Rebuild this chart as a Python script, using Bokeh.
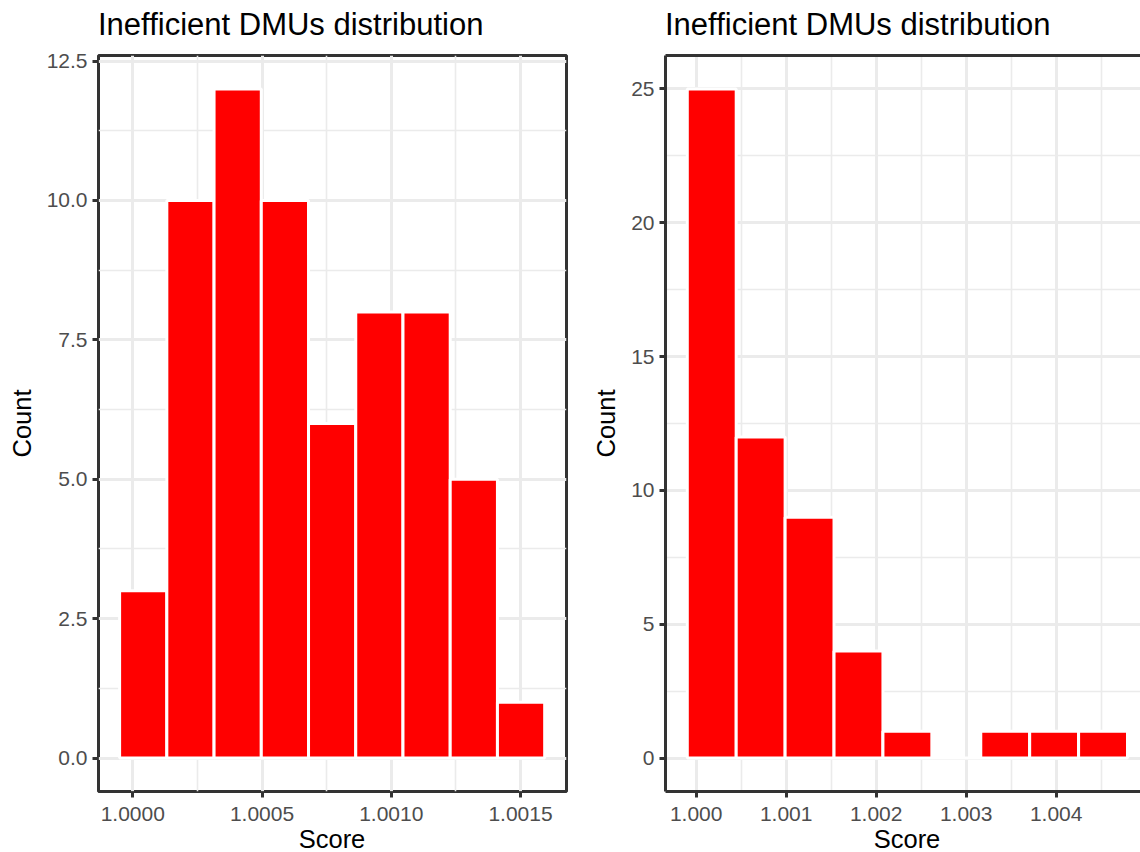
from bokeh.plotting import figure
from bokeh.layouts import row, column
from bokeh.models import FixedTicker, PrintfTickFormatter, Range1d, LinearAxis, ColumnDataSource, Div
from bokeh.embed import file_html
from bokeh.resources import INLINE

# ---------------- data ----------------
left_bin_centers = [1.0000404, 1.0002231, 1.0004058, 1.0005885, 1.0007712,
                    1.0009539, 1.0011366, 1.0013193, 1.0015020]
left_counts = [3, 10, 12, 10, 6, 8, 8, 5, 1]
left_bin_width = 0.00018271
left_x_ticks = [1.0000, 1.0005, 1.0010, 1.0015]
left_x_minor = [1.00025, 1.00075, 1.00125]
left_y_ticks = [0.0, 2.5, 5.0, 7.5, 10.0, 12.5]
left_y_minor = [1.25, 3.75, 6.25, 8.75, 11.25]

right_bin_centers = [1.0001728, 1.0007163, 1.0012597, 1.0018032, 1.0023466,
                     1.0028901, 1.0034336, 1.0039770, 1.0045205]
right_counts = [25, 12, 9, 4, 1, 0, 1, 1, 1]
right_bin_width = 0.00054346
right_x_ticks = [1.000, 1.001, 1.002, 1.003, 1.004]
right_x_minor = [1.0005, 1.0015, 1.0025, 1.0035, 1.0045]
right_y_ticks = [0, 5, 10, 15, 20, 25]
right_y_minor = [2.5, 7.5, 12.5, 17.5, 22.5]

title_text = "Inefficient DMUs distribution"
x_label = "Score"
y_label = "Count"

FONT = "Liberation Sans"
DARK = "#333333"
TICKLAB = "#4D4D4D"
GRID = "#EBEBEB"

TITLE_H = 45
XLAB_H = 22
FIG_H = 852 - TITLE_H - XLAB_H
LEFT_W, RIGHT_W = 585, 555


def title_div(width, pad_left):
    html = ('<div style="padding-left:%dpx;font-family:\'Liberation Sans\';font-size:31px;'
            'line-height:50px;color:#000000;white-space:nowrap;margin:0">%s</div>'
            % (pad_left, title_text))
    return Div(text=html, width=width, height=TITLE_H, margin=0)


def xlabel_div(width, pad_left, box_w):
    html = ('<div style="margin-left:%dpx;width:%dpx;text-align:center;font-family:\'Liberation Sans\';'
            'font-size:25.5px;line-height:19px;color:#000000;white-space:nowrap">%s</div>'
            % (pad_left, box_w, x_label))
    return Div(text=html, width=width, height=XLAB_H, margin=0)


def style(p, xt, xm, yt, ym, xfmt, yfmt, outline=True):
    p.background_fill_color = "white"
    p.border_fill_color = "white"
    if outline:
        p.outline_line_color = DARK
        p.outline_line_width = 3
    else:
        p.outline_line_color = None
    p.xaxis.ticker = FixedTicker(ticks=xt, minor_ticks=xm)
    p.yaxis.ticker = FixedTicker(ticks=yt, minor_ticks=ym)
    p.xaxis.formatter = PrintfTickFormatter(format=xfmt)
    p.yaxis.formatter = PrintfTickFormatter(format=yfmt)
    for ax in (p.xaxis, p.yaxis):
        ax.major_label_text_font = FONT
        ax.major_label_text_font_size = "21px"
        ax.major_label_text_color = TICKLAB
        ax.axis_label_text_font = FONT
        ax.axis_label_text_font_size = "25.5px"
        ax.axis_label_text_font_style = "normal"
        ax.axis_label_text_color = "black"
        ax.major_tick_line_color = DARK
        ax.major_tick_line_width = 3
        ax.major_tick_out = 6
        ax.major_tick_in = 0
        ax.minor_tick_line_color = None
        if outline:
            ax.axis_line_color = None
        else:
            ax.axis_line_color = DARK
            ax.axis_line_width = 3
    p.yaxis.axis_label = y_label
    p.xaxis.major_label_standoff = 9
    p.yaxis.major_label_standoff = 5
    p.yaxis.axis_label_standoff = 8
    for g in (p.xgrid, p.ygrid):
        g.grid_line_color = GRID
        g.grid_line_width = 3
        g.minor_grid_line_color = GRID
        g.minor_grid_line_width = 1.6
    p.xgrid.ticker = FixedTicker(ticks=xt, minor_ticks=xm)
    p.ygrid.ticker = FixedTicker(ticks=yt, minor_ticks=ym)


# ---------------- left panel ----------------
p1 = figure(width=LEFT_W, height=FIG_H, output_backend="svg", toolbar_location=None,
            x_range=Range1d(0.9998674, 1.0016778), y_range=Range1d(-0.6, 12.6),
            min_border_left=98, min_border_right=19, min_border_top=10, min_border_bottom=39)
src1 = ColumnDataSource(dict(x=left_bin_centers, top=left_counts))
p1.vbar(x="x", top="top", bottom=0, width=left_bin_width, source=src1,
        fill_color="#FF0000", line_color="white", line_width=3)
style(p1, left_x_ticks, left_x_minor, left_y_ticks, left_y_minor, "%.4f", "%.1f", outline=True)

# ---------------- right panel ----------------
p2 = figure(width=RIGHT_W, height=FIG_H, output_backend="svg", toolbar_location=None,
            x_range=Range1d(0.9996589, 1.0049367), y_range=Range1d(-1.25, 26.25),
            min_border_left=80, min_border_right=0, min_border_top=10, min_border_bottom=39)
src2 = ColumnDataSource(dict(x=right_bin_centers, top=right_counts))
p2.vbar(x="x", top="top", bottom=0, width=right_bin_width, source=src2,
        fill_color="#FF0000", line_color="white", line_width=3)
style(p2, right_x_ticks, right_x_minor, right_y_ticks, right_y_minor, "%.3f", "%d", outline=False)
top_axis = LinearAxis(ticker=FixedTicker(ticks=[]), major_label_text_font_size="0px",
                      major_tick_out=0, major_tick_in=0, minor_tick_out=0, minor_tick_in=0,
                      major_label_standoff=0, axis_line_color=DARK, axis_line_width=3)
p2.add_layout(top_axis, "above")

layout = column(row(title_div(LEFT_W, 98), title_div(RIGHT_W, 80)),
                row(p1, p2),
                row(xlabel_div(LEFT_W, 98, 468), xlabel_div(RIGHT_W, 0, 644)))
open("out.html", "w").write(file_html(layout, INLINE))
